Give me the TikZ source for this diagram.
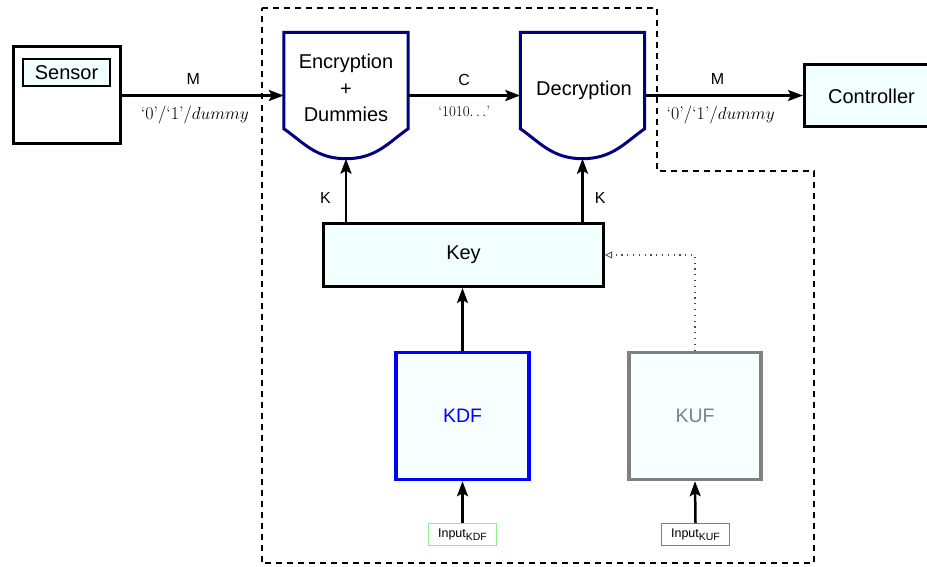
\documentclass[tikz,border=0pt]{standalone}
\usepackage{fontspec}
\setsansfont{Liberation Sans}
\usetikzlibrary{arrows.meta}
\definecolor{boxfill}{HTML}{F2FFFF}
\definecolor{encblue}{HTML}{000080}
\definecolor{kdfblue}{HTML}{0000FF}
\definecolor{kufgray}{HTML}{808080}
\definecolor{ingreen}{HTML}{90EE90}
\newcommand{\insub}[1]{\raisebox{-3.5pt}{\fontsize{10.5}{12}\selectfont #1}}
\begin{document}
\begin{tikzpicture}[x=1pt,y=-1pt,font=\sffamily,
  big/.style={font=\sffamily\fontsize{20}{24}\selectfont},
  blk/.style={draw,line width=3pt,fill=boxfill,inner sep=0pt},
  shieldbox/.style={inner sep=0pt,minimum width=124pt,minimum height=126pt},
  shield/.style={draw=encblue,line width=3pt,fill=white},
  arr/.style={line width=2.5pt,-{Stealth[length=15pt,width=11pt,inset=3pt]}},
  lbl/.style={font=\sffamily\fontsize{16}{18}\selectfont,inner sep=0pt},
  serif/.style={font=\rmfamily\fontsize{18}{20}\selectfont,inner sep=0pt},
  serifs/.style={font=\rmfamily\fontsize{15}{17}\selectfont,inner sep=0pt},
  bound/.style={line width=2pt,dash pattern=on 6pt off 5pt},
  inbox/.style={draw,line width=1pt,fill=white,minimum width=68pt,minimum height=22pt,inner sep=0pt,font=\sffamily\fontsize{12.5}{14}\selectfont},
  dots/.style={black!70,line width=1.2pt,dash pattern=on 1.2pt off 4.6pt,-{Triangle[open,length=7pt,width=7pt,line width=0.8pt]}}
]
\useasboundingbox (0,0) rectangle (927,567);
\clip (0,0) rectangle (927,567);

% protected region boundary
\draw[bound] (261.5,8.5) -- (657,8.5) -- (657,171) -- (814,171) -- (814,563) -- (261.5,563) -- cycle;

% sensor
\node[blk,fill=white,minimum width=107pt,minimum height=97pt] (sensor) at (67,95) {};
\node[blk,line width=2pt,minimum width=87pt,minimum height=27pt,big] (sensorlbl) at (66.5,72.5) {Sensor};

% encryption / decryption shields
\node[shieldbox] (enc) at (346,95.5) {};
\node[shieldbox] (dec) at (582.5,95.5) {};
\foreach \n in {enc,dec}{
  \draw[shield] (\n.north west) -- (\n.north east) -- ([yshift=30pt]\n.south east)
    .. controls ([xshift=-20pt,yshift=16pt]\n.south east) and ([xshift=30pt]\n.south) .. (\n.south)
    .. controls ([xshift=-30pt]\n.south) and ([xshift=20pt,yshift=16pt]\n.south west) .. ([yshift=30pt]\n.south west)
    -- cycle;
}
\node[big,align=center,inner sep=0pt] (enctext) at (346,88) {Encryption\\[2.5pt]+\\[2.5pt]Dummies};
\node[big,inner sep=0pt] (dectext) at (584,90) {Decryption};

% controller
\node[blk,minimum width=134pt,minimum height=62pt] (ctrl) at (871.5,95.5) {};
\node[big,inner sep=0pt] (ctrltext) at (871.5,96) {Controller};

% key
\node[blk,minimum width=280pt,minimum height=63pt,big] (key) at (463.5,255) {Key};

% KDF / KUF
\node[draw=kdfblue,line width=3.5pt,fill=boxfill!60,minimum width=133pt,minimum height=127pt,inner sep=0pt,text=kdfblue,font=\sffamily\fontsize{19.5}{22}\selectfont] (kdf) at (462.5,416) {KDF};
\node[draw=kufgray,line width=3.5pt,fill=boxfill!60,minimum width=132pt,minimum height=127pt,inner sep=0pt,text=kufgray,font=\sffamily\fontsize{19.5}{22}\selectfont] (kuf) at (695,416) {KUF};

% inputs
\node[inbox,draw=ingreen] (inkdf) at (462.5,534.5) {Input\insub{KDF}};
\node[inbox,draw=kufgray] (inkuf) at (695.5,534.5) {Input\insub{KUF}};

% connectors
\draw[arr] (sensor.east |- enc.west) -- (enc.west)
  node[lbl,pos=0.44,above=10pt] (m1) {M}
  node[serif,pos=0.45,below=9pt] (v1) {`0'/`1'/$dummy$};
\draw[arr] (enc.east) -- (dec.west)
  node[lbl,midway,above=9pt] (c1) {C}
  node[serifs,midway,below=9pt] (v2) {`1010$\ldots$'};
\draw[arr] (dec.east) -- (ctrl.west)
  node[lbl,pos=0.46,above=10pt] (m2) {M}
  node[serif,pos=0.48,below=9pt] (v3) {`0'/`1'/$dummy$};
\draw[arr] (key.north -| enc.south) -- (enc.south)
  node[lbl,pos=0.38,left=14pt] (k1) {K};
\draw[arr] (key.north -| dec.south) -- (dec.south)
  node[lbl,pos=0.38,right=11pt] (k2) {K};
\draw[arr] (kdf.north) -- (kdf.north |- key.south);
\draw[arr] (inkdf.north) -- (kdf.south);
\draw[arr] (inkuf.north) -- (kuf.south);
\draw[dots] (kuf.north) |- (key.east);
\end{tikzpicture}
\end{document}
